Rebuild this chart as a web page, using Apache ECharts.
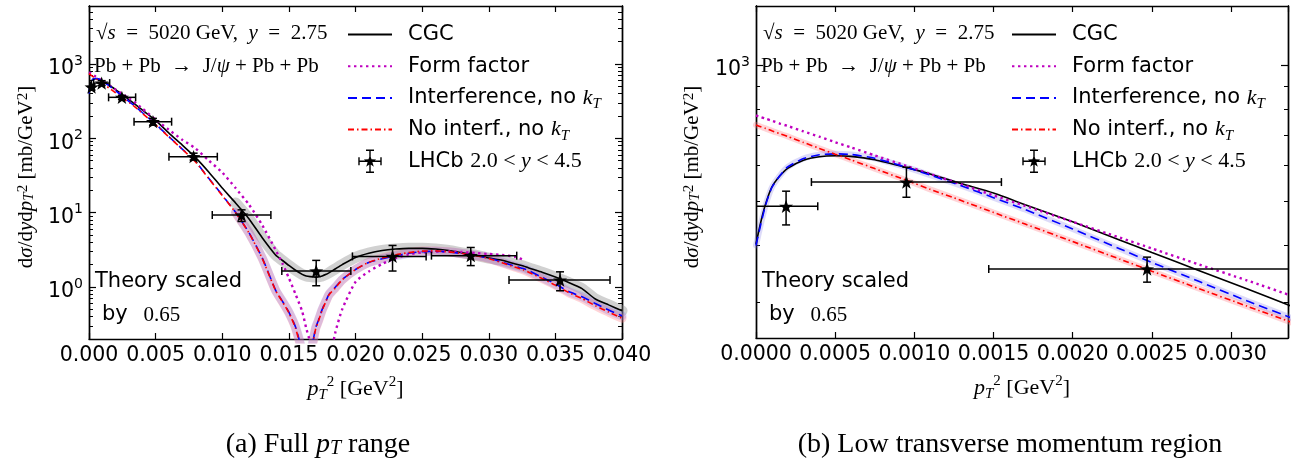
<!DOCTYPE html>
<html style="height: 100%">
<head>
    <meta charset="utf-8">
    <title>J/psi pT spectrum in Pb+Pb</title>
</head>
<body style="height: 100%; margin: 0; background: #ffffff">
<div id="container" style="width: 1299px; height: 464px"></div>
<script type="text/javascript" src="https://cdn.jsdelivr.net/npm/echarts@6/dist/echarts.min.js"></script>
<script type="text/javascript">
    // p_T^2 grid shared by all theory curves (GeV^2)
    var theoryX = [
        0, 0.00003, 0.00006, 0.0001, 0.00015, 0.0002, 0.0003, 0.0004, 0.0005, 0.0006,
        0.00075, 0.00095, 0.0011, 0.0013, 0.0015, 0.0017, 0.002, 0.0023, 0.0025, 0.0028,
        0.0031, 0.0034, 0.004, 0.005, 0.006, 0.007, 0.008, 0.009, 0.010, 0.011,
        0.012, 0.013, 0.014, 0.0145, 0.015, 0.0155, 0.016, 0.0163, 0.0166, 0.017,
        0.0172, 0.0175, 0.0178, 0.018, 0.0185, 0.019, 0.020, 0.021, 0.022, 0.023,
        0.024, 0.025, 0.026, 0.027, 0.028, 0.029, 0.030, 0.031, 0.032, 0.0326,
        0.033, 0.034, 0.035, 0.036, 0.037, 0.038, 0.039, 0.040
    ];
    var cgc = [
        403, 450, 493, 538, 569, 592, 617, 628, 631, 629,
        618, 594, 575, 547, 522, 492, 451, 411, 386, 352,
        321, 292, 240, 174, 117, 81, 55, 35, 21.4, 13.5,
        8.3, 4.6, 2.7, 2.29, 1.95, 1.68, 1.48, 1.41, 1.38, 1.36,
        1.37, 1.41, 1.48, 1.55, 1.76, 2.0, 2.5, 2.85, 3.1, 3.24,
        3.31, 3.31, 3.24, 3.1, 2.88, 2.69, 2.45, 2.29, 2.04, 1.92,
        1.80, 1.58, 1.36, 1.15, 0.95, 0.69, 0.575, 0.48
    ];
    var formFactor = [
        774, 768, 762, 754, 743, 734, 714, 695, 676, 658,
        632, 599, 575, 545, 516, 489, 451, 416, 394, 363,
        335, 308, 251, 178, 130, 95.5, 72.8, 50, 34.7, 21.4,
        12.9, 6.8, 3.16, 2.1, 1.32, 0.8, 0.47, 0.28, 0.18, 0.08,
        0.04, 0.01, 0.04, 0.09, 0.25, 0.5, 1.17, 1.62, 2.04, 2.45,
        2.75, 2.92, 2.99, 3.0, 2.95, 2.86, 2.78, 2.70, 2.55, 2.32,
        null, null, null, null, null, null, null, null
    ];
    var interference = [
        400, 445, 490, 537, 570, 596, 622, 634, 637, 635,
        623, 595, 572, 541, 510, 480, 435, 393, 367, 333,
        302, 275, 222, 155, 105, 71.6, 48.8, 28.8, 17.2, 10.1,
        5.4, 2.46, 0.91, 0.65, 0.46, 0.29, 0.13, 0.02, 0.11, 0.28,
        0.35, 0.5, 0.66, 0.79, 1.0, 1.26, 1.72, 2.14, 2.4, 2.63,
        2.85, 2.99, 3.02, 2.95, 2.82, 2.66, 2.45, 2.16, 1.9, 1.77,
        1.66, 1.35, 1.10, 0.87, 0.74, 0.6, 0.49, 0.41
    ];
    var noInterf = [
        738, 731, 725, 716, 706, 696, 675, 655, 636, 618,
        591, 557, 532, 502, 473, 446, 408, 373, 351, 321,
        294, 269, 217, 152, 104, 71, 48, 28.5, 17.0, 10.0,
        5.35, 2.42, 0.9, 0.64, 0.45, 0.28, 0.12, 0.02, 0.1, 0.27,
        0.34, 0.49, 0.65, 0.78, 0.98, 1.25, 1.72, 2.15, 2.45, 2.7,
        2.9, 3.04, 3.06, 2.97, 2.82, 2.64, 2.42, 2.12, 1.84, 1.7,
        1.58, 1.3, 1.06, 0.84, 0.7, 0.56, 0.46, 0.38
    ];

    // LHCb points with error bars
    var lhcbX   = [0.00019, 0.00095, 0.00247, 0.0048, 0.00785, 0.01145, 0.01705, 0.02278, 0.02865, 0.03535];
    var lhcbY   = [488, 552, 355, 167, 56.5, 9.3, 1.64, 2.58, 2.64, 1.24];
    var lhcbXLo = [0, 0.00035, 0.00147, 0.00338, 0.0060, 0.00925, 0.01447, 0.01977, 0.0257, 0.03152];
    var lhcbXHi = [0.00039, 0.00155, 0.0035, 0.0062, 0.00963, 0.01365, 0.01965, 0.0253, 0.0321, 0.0391];
    var lhcbYLo = [444, 511, 332, 150, 51, 7.6, 1.04, 1.64, 1.94, 0.89];
    var lhcbYHi = [527, 595, 377, 185, 63, 10.9, 2.28, 3.62, 3.40, 1.60];

    // axis ticks
    var leftMajor = [1, 10, 100, 1000];
    var leftMinor = [0.2, 0.3, 0.4, 0.5, 0.6, 0.7, 0.8, 0.9, 2, 3, 4, 5, 6, 7, 8, 9,
        20, 30, 40, 50, 60, 70, 80, 90, 200, 300, 400, 500, 600, 700, 800, 900, 2000, 3000, 4000, 5000, 6000];
    var rightMajor = [1000];
    var rightMinor = [300, 400, 500, 600, 700, 800, 900];

    var SANS = 'DejaVu Sans';
    var SERIF = 'Liberation Serif';
    var STAR = 'path://M22 6.5L23.29 10.22L27.23 10.3L24.09 12.68L25.23 16.45L22 14.2L18.77 16.45L19.91 12.68L16.77 10.3L20.71 10.22Z';
    var LHCB_ICON = 'path://M0 0h0.01v0.01zM44 24h-0.01v-0.01z' +
        'M11 11.3H33V12.7H11ZM10.3 8H11.7V16H10.3ZM32.3 8H33.7V16H32.3Z' +
        'M21.3 1H22.7V23H21.3ZM18 0.3H26V1.7H18ZM18 22.3H26V23.7H18Z' +
        'M22 5.5L23.5 10L28.2 10.1L24.4 12.9L25.8 17.4L22 14.7L18.2 17.4L19.6 12.9L15.8 10.1L20.5 10Z';

    function pairs(ys, xMin) {
        var out = [];
        for (var i = 0; i < theoryX.length; i++) {
            if (ys[i] == null) continue;
            if (xMin != null && theoryX[i] < xMin) continue;
            out.push([theoryX[i], ys[i]]);
        }
        return out;
    }
    var lhcbRows = lhcbX.map(function (x, i) {
        return [x, lhcbY[i], lhcbXLo[i], lhcbXHi[i], lhcbYLo[i], lhcbYHi[i]];
    });

    function mathRich(size, colorKey) {
        var c = {};
        function s(o) { o[colorKey] = '#000'; return o; }
        c.r = s({fontFamily: SERIF, fontSize: size});
        c.i = s({fontFamily: SERIF, fontSize: size, fontStyle: 'italic'});
        c.sup = s({fontFamily: SERIF, fontSize: Math.round(size * 0.7), verticalAlign: 'top', lineHeight: Math.round(size * 0.7)});
        c.sub = s({fontFamily: SERIF, fontSize: Math.round(size * 0.7), fontStyle: 'italic', verticalAlign: 'bottom', lineHeight: Math.round(size * 0.7)});
        c.sans = s({fontFamily: SANS, fontSize: 21});
        return c;
    }

    function renderErr(params, api) {
        var x = api.value(0), y = api.value(1);
        var l = api.coord([api.value(2), y]), r = api.coord([api.value(3), y]);
        var b = api.coord([x, api.value(4)]), t = api.coord([x, api.value(5)]);
        var cap = 4;
        var st = {stroke: '#000', lineWidth: 1.5};
        function ln(x1, y1, x2, y2) {
            return {type: 'line', shape: {x1: x1, y1: y1, x2: x2, y2: y2}, style: st};
        }
        return {
            type: 'group',
            children: [
                ln(l[0], l[1], r[0], r[1]),
                ln(l[0], l[1] - cap, l[0], l[1] + cap),
                ln(r[0], r[1] - cap, r[0], r[1] + cap),
                ln(b[0], b[1], t[0], t[1]),
                ln(b[0] - cap, b[1], b[0] + cap, b[1]),
                ln(t[0] - cap, t[1], t[0] + cap, t[1])
            ]
        };
    }

    var axisLine = {show: true, lineStyle: {color: '#000', width: 1.4}};

    function xAxes(grid, max, step, digits) {
        var base = {
            type: 'value', gridIndex: grid, min: 0, max: max, interval: step,
            splitLine: {show: false}, axisLine: axisLine,
            axisTick: {show: true, inside: true, length: 6, lineStyle: {color: '#000', width: 1.2}}
        };
        var bottom = echarts.util.merge({
            position: 'bottom',
            axisLabel: {
                show: true, color: '#000', fontFamily: SANS, fontSize: 20.5, margin: 6,
                showMaxLabel: digits === 3, showMinLabel: true,
                formatter: function (v) { return v.toFixed(digits); }
            },
            name: '{i|p}{sub|T}{sup|2}{r| [GeV}{sup|2}{r|]}',
            nameLocation: 'middle', nameGap: 36,
            nameTextStyle: {lineHeight: 28, rich: mathRich(22, 'color')}
        }, base, true);
        var top = echarts.util.merge({position: 'top', axisLabel: {show: false}}, base, true);
        return [bottom, top];
    }

    function yAxes(grid, min, max, major, minor) {
        var list = [];
        ['left', 'right'].forEach(function (pos) {
            list.push({
                type: 'log', logBase: 10, gridIndex: grid, min: min, max: max, position: pos,
                splitLine: {show: false}, axisLine: axisLine,
                axisTick: {show: true, inside: true, length: 7, customValues: major, lineStyle: {color: '#000', width: 1.2}},
                axisLabel: {
                    show: pos === 'left', customValues: major, color: '#000', fontFamily: SANS,
                    fontSize: 20.5, margin: 6, lineHeight: 30, padding: [10, 0, 0, 0],
                    formatter: function (v) { return '10{p|' + Math.round(Math.log10(v)) + '}'; },
                    rich: {p: {fontFamily: SANS, fontSize: 14, color: '#000', verticalAlign: 'top', lineHeight: 14}}
                }
            });
            list.push({
                type: 'log', logBase: 10, gridIndex: grid, min: min, max: max, position: pos,
                splitLine: {show: false}, axisLine: axisLine,
                axisTick: {show: true, inside: true, length: 4, customValues: minor, lineStyle: {color: '#000', width: 1}},
                axisLabel: {show: false}
            });
        });
        return list;
    }

    var NAMES = {
        cgc: 'CGC', ff: 'Form factor', intf: 'Interference, no kT', noi: 'No interf., no kT', lhcb: 'LHCb'
    };
    var legendText = {};
    legendText[NAMES.cgc] = 'CGC';
    legendText[NAMES.ff] = 'Form factor';
    legendText[NAMES.intf] = 'Interference, no {k|k}{s|T}';
    legendText[NAMES.noi] = 'No interf., no {k|k}{s|T}';
    legendText[NAMES.lhcb] = 'LHCb {m|2.0 < }{k|y}{m| < 4.5}';

    function legendFor(left) {
        var noSymbol = {opacity: 0};
        return {
            orient: 'vertical', left: left, top: 20.5, padding: 0,
            itemWidth: 44, itemHeight: 24, itemGap: 3.7, selectedMode: false,
            data: [
                {name: NAMES.cgc, itemStyle: noSymbol},
                {name: NAMES.ff, itemStyle: noSymbol},
                {name: NAMES.intf, itemStyle: noSymbol},
                {name: NAMES.noi, itemStyle: noSymbol},
                {name: NAMES.lhcb, icon: LHCB_ICON, itemStyle: {color: '#000', opacity: 1}}
            ],
            formatter: function (n) { return legendText[n]; },
            textStyle: {
                color: '#000', fontFamily: SANS, fontSize: 21, lineHeight: 28, padding: [0, 0, 0, 11],
                rich: {
                    k: {fontFamily: SERIF, fontStyle: 'italic', fontSize: 22, color: '#000'},
                    s: {fontFamily: SERIF, fontStyle: 'italic', fontSize: 15, color: '#000', verticalAlign: 'bottom', lineHeight: 15},
                    m: {fontFamily: SERIF, fontSize: 22, color: '#000'}
                }
            }
        };
    }

    function seriesFor(grid, xi, yi, full) {
        var s = [];
        var bandFrom = full ? 0.011 : null;
        var sm = 0.2;
        if (full) {
            s.push({name: 'cgc band', type: 'line', xAxisIndex: xi, yAxisIndex: yi, data: pairs(cgc, bandFrom),
                symbol: 'none', z: 1, smooth: sm, lineStyle: {color: 'rgba(140,140,140,0.4)', width: 11, cap: 'round'}});
        }
        s.push({name: 'noi band', type: 'line', xAxisIndex: xi, yAxisIndex: yi, data: pairs(noInterf, bandFrom),
            symbol: 'none', z: 1, smooth: sm, lineStyle: {color: 'rgba(255,120,130,0.32)', width: full ? 9 : 6, cap: 'round'}});
        s.push({name: 'intf band', type: 'line', xAxisIndex: xi, yAxisIndex: yi, data: pairs(interference, bandFrom),
            symbol: 'none', z: 1, smooth: sm, lineStyle: {color: 'rgba(120,110,230,0.25)', width: full ? 9 : 6, cap: 'round'}});

        s.push({name: NAMES.cgc, type: 'line', xAxisIndex: xi, yAxisIndex: yi, data: pairs(cgc),
            symbol: 'none', z: 3, smooth: sm, color: '#000', lineStyle: {color: '#000', width: 1.6}});
        s.push({name: NAMES.ff, type: 'line', xAxisIndex: xi, yAxisIndex: yi, data: pairs(formFactor),
            symbol: 'none', z: 3, smooth: sm, color: '#bf00bf', lineStyle: {color: '#bf00bf', width: 2.4, type: [2.4, 3.6]}});
        s.push({name: NAMES.intf, type: 'line', xAxisIndex: xi, yAxisIndex: yi, data: pairs(interference),
            symbol: 'none', z: 3, smooth: sm, color: '#0000ff', lineStyle: {color: '#0000ff', width: 1.6, type: [9, 5]}});
        s.push({name: NAMES.noi, type: 'line', xAxisIndex: xi, yAxisIndex: yi, data: pairs(noInterf),
            symbol: 'none', z: 3, smooth: sm, color: '#ff0000', lineStyle: {color: '#ff0000', width: 1.6, type: [6, 3, 1.5, 3]}});

        s.push({name: 'lhcb err', type: 'custom', xAxisIndex: xi, yAxisIndex: yi, data: lhcbRows,
            renderItem: renderErr, clip: true, z: 5, encode: {x: [0, 2, 3], y: [1, 4, 5]}});
        s.push({name: NAMES.lhcb, type: 'scatter', xAxisIndex: xi, yAxisIndex: yi,
            data: lhcbRows.map(function (r) { return [r[0], r[1]]; }),
            symbol: STAR, symbolSize: 14, symbolKeepAspect: true, z: 6, clip: true,
            itemStyle: {color: '#000', opacity: 1}});
        return s;
    }

    function annotations(spine) {
        var rich = mathRich(21, 'fill');
        return [
            {type: 'text', x: spine + 7, y: 33, z: 10, style: {
                text: '{r|√}{i|s}{r|  =  5020 GeV,  }{i|y}{r|  =  2.75}', rich: rich, verticalAlign: 'middle'}},
            {type: 'text', x: spine + 5, y: 66, z: 10, style: {
                text: '{r|Pb + Pb  →  J/}{i|ψ}{r| + Pb + Pb}', rich: rich, verticalAlign: 'middle'}},
            {type: 'text', x: spine + 6, y: 282, z: 10, style: {
                text: 'Theory scaled', fill: '#000', fontFamily: SANS, fontSize: 21, verticalAlign: 'middle'}},
            {type: 'text', x: spine + 13, y: 315, z: 10, style: {
                text: '{sans|by}{r|   0.65}', rich: rich, verticalAlign: 'middle'}}
        ];
    }

    var yTitle = '{r|d}{i|σ}{r|/d}{i|y}{r|d}{i|p}{sub|T}{sup|2}{r| [mb/GeV}{sup|2}{r|]}';
    var captionRich = mathRich(28, 'fill');

    var dom = document.getElementById('container');
    var myChart = echarts.init(dom);
    var option = {
        animation: false,
        backgroundColor: '#ffffff',
        textStyle: {fontFamily: SANS},
        grid: [
            {left: 89, top: 6, width: 533, height: 333},
            {left: 756, top: 6, width: 532, height: 332}
        ],
        xAxis: xAxes(0, 0.04, 0.005, 3).concat(xAxes(1, 0.00336, 0.0005, 4)),
        yAxis: yAxes(0, 0.2, 6000, leftMajor, leftMinor).concat(yAxes(1, 250, 1350, rightMajor, rightMinor)),
        legend: [legendFor(347), legendFor(1011)],
        series: seriesFor(0, 0, 0, true).concat(seriesFor(1, 2, 4, false)),
        graphic: annotations(89).concat(annotations(756)).concat([
            {type: 'text', x: 26, y: 177, rotation: Math.PI / 2, z: 10, style: {
                text: yTitle, rich: mathRich(21, 'fill'), align: 'center', verticalAlign: 'middle'}},
            {type: 'text', x: 692, y: 177, rotation: Math.PI / 2, z: 10, style: {
                text: yTitle, rich: mathRich(21, 'fill'), align: 'center', verticalAlign: 'middle'}},
            {type: 'text', x: 318, y: 445, z: 10, style: {
                text: '{r|(a) Full }{i|p}{sub|T}{r| range}', rich: captionRich, align: 'center', verticalAlign: 'middle'}},
            {type: 'text', x: 1010, y: 445, z: 10, style: {
                text: '{r|(b) Low transverse momentum region}', rich: captionRich, align: 'center', verticalAlign: 'middle'}}
        ])
    };
    myChart.setOption(option, true);
</script>
</body>
</html>
